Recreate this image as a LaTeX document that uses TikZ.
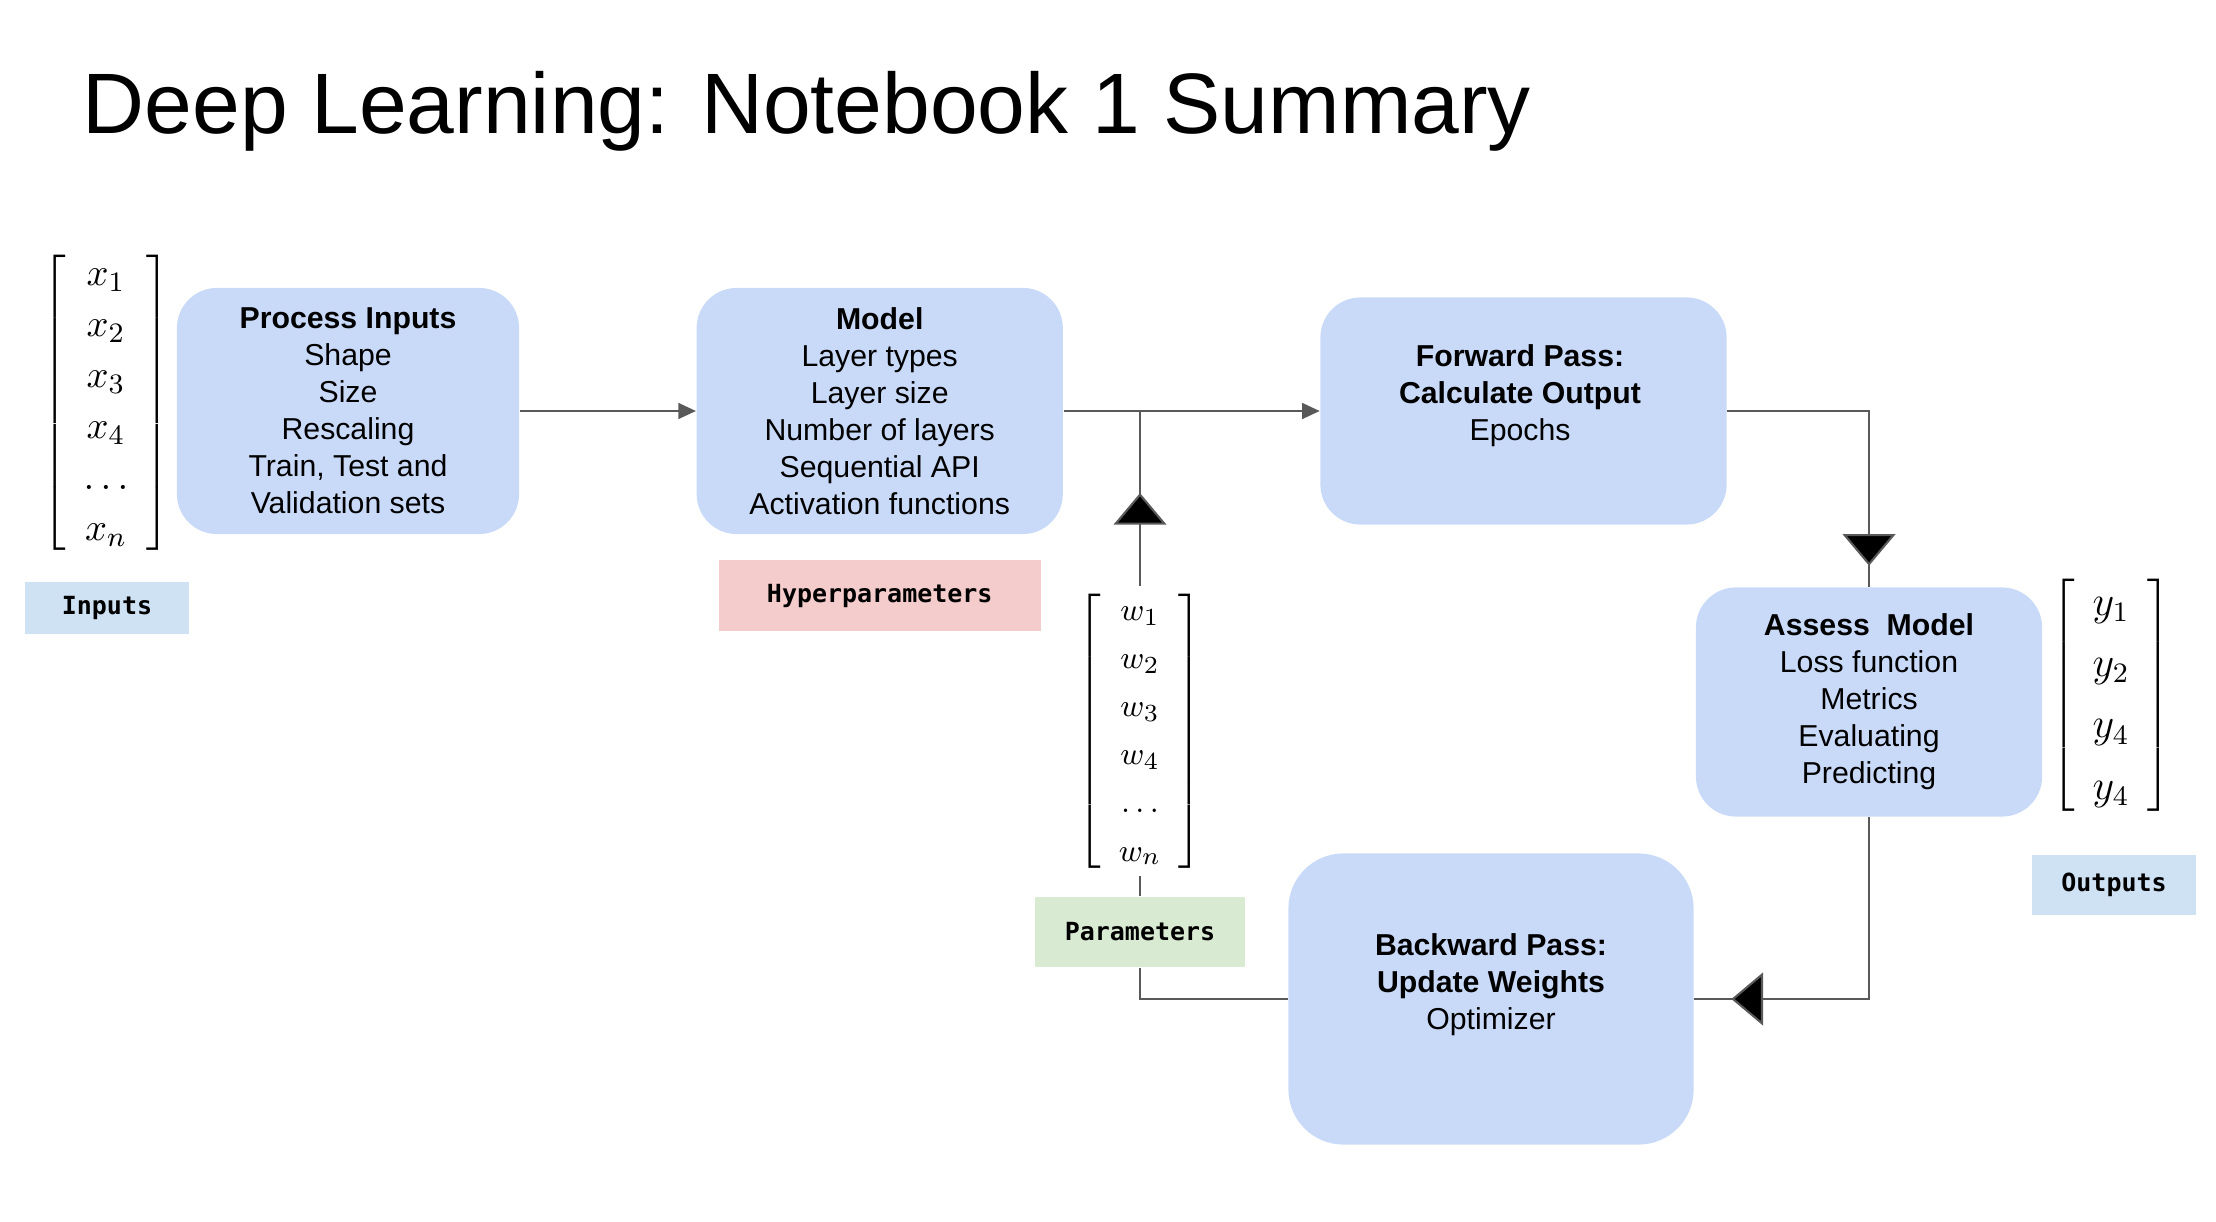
\documentclass[tikz,border=0pt]{standalone}
\usepackage{fontspec}
\setmainfont{Liberation Sans}
\newfontfamily\tagfont{DejaVu Sans Mono}
\usepackage{tikz}
\usetikzlibrary{arrows.meta, positioning, decorations.markings}

\definecolor{stageblue}{HTML}{C9DAF8}
\definecolor{tagblue}{HTML}{CFE2F3}
\definecolor{tagred}{HTML}{F4CCCC}
\definecolor{taggreen}{HTML}{D9EAD3}
\definecolor{linegrey}{HTML}{595959}

\tikzset{
  stagetext/.style={align=center, font=\fontsize{8.6}{10.5}\selectfont},
  stagebox/.style={stagetext, fill=stageblue, rounded corners=0.4cm},
  tagbox/.style={align=center, font=\tagfont\bfseries\fontsize{7.1}{8}\selectfont},
  link/.style={draw=linegrey, line width=0.6pt},
  flow/.style={link, -{Triangle[length=5pt, width=4.5pt]}},
  bigtri/.style={postaction={decorate}, decoration={markings,
      mark=at position #1 with {\arrow{Triangle[length=9pt, width=15pt, fill=black]}}}}
}

\begin{document}
\begin{tikzpicture}[x=0.01cm, y=-0.01cm]
  \useasboundingbox (0,0) rectangle (2216,1222);
  % Notebook 1 overview: stages, vectors and tags
  \node[anchor=base west, inner sep=0pt, font=\fontsize{24.4}{29}\selectfont] (title) at (82,134) {Deep Learning: Notebook 1 Summary};

  \node[stagebox, minimum width=3.42cm, minimum height=2.46cm] (proc) at (348,411) {\textbf{Process Inputs}\\Shape\\Size\\Rescaling\\Train, Test and\\Validation sets};
  \node[stagebox, minimum width=3.66cm, minimum height=2.46cm, right=1.76cm of proc] (model) {\textbf{Model}\\Layer types\\Layer size\\Number of layers\\Sequential API\\Activation functions};
  \node[stagebox, minimum width=4.06cm, minimum height=2.27cm, right=2.56cm of model] (fwd) {};
  \node[stagetext] (fwdtext) at (1520,396) {\textbf{Forward Pass:}\\\textbf{Calculate Output}\\Epochs};
  \node[stagebox, minimum width=3.46cm, minimum height=2.29cm] (assess) at (1869,702) {\textbf{Assess~~Model}\\Loss function\\Metrics\\Evaluating\\Predicting};
  \node[stagebox, rounded corners=0.55cm, minimum width=4.05cm, minimum height=2.91cm] (bwd) at (1491,999) {};
  \node[stagetext] (bwdtext) at (1491,985) {\textbf{Backward Pass:}\\\textbf{Update Weights}\\Optimizer};

  \node[inner sep=0pt, font=\fontsize{11.4}{14.5}\selectfont] (xvec) at (106,403) {$\left[\begin{array}{c} x_1\\ x_2\\ x_3\\ x_4\\ \dots\\ x_n \end{array}\right]$};
  \node[inner sep=0pt, font=\fontsize{9.5}{13.7}\selectfont] (wvec) at (1140,731) {$\left[\begin{array}{c} w_1\\ w_2\\ w_3\\ w_4\\ \dots\\ w_n \end{array}\right]$};
  \node[inner sep=0pt, font=\fontsize{11.8}{17.4}\selectfont] (yvec) at (2111,695) {$\left[\begin{array}{c} y_1\\ y_2\\ y_4\\ y_4 \end{array}\right]$};

  \node[tagbox, fill=tagblue, minimum width=1.64cm, minimum height=0.51cm] (inputs) at (107,608) {Inputs};
  \node[tagbox, fill=tagred, minimum width=3.22cm, minimum height=0.70cm, below=0.25cm of model] (hyper) {Hyperparameters};
  \node[tagbox, fill=taggreen, minimum width=2.10cm, minimum height=0.70cm] (params) at (1140,932) {Parameters};
  \node[tagbox, fill=tagblue, minimum width=1.63cm, minimum height=0.59cm] (outputs) at (2114,885) {Outputs};

  \draw[flow] (proc) -- (model);
  \draw[flow] (model) -- (fwd);
  \draw[link, bigtri=-0.82cm] (wvec.north) -- (wvec.north |- model.east);
  \draw[link] (wvec.south) -- (params.north);
  \draw[link] (params.south) |- (bwd.west);
  \draw[link, bigtri=-0.21cm] (fwd.east) -| (assess.north);
  \draw[link, bigtri=-0.37cm] (assess.south) |- (bwd.east);
\end{tikzpicture}
\end{document}
